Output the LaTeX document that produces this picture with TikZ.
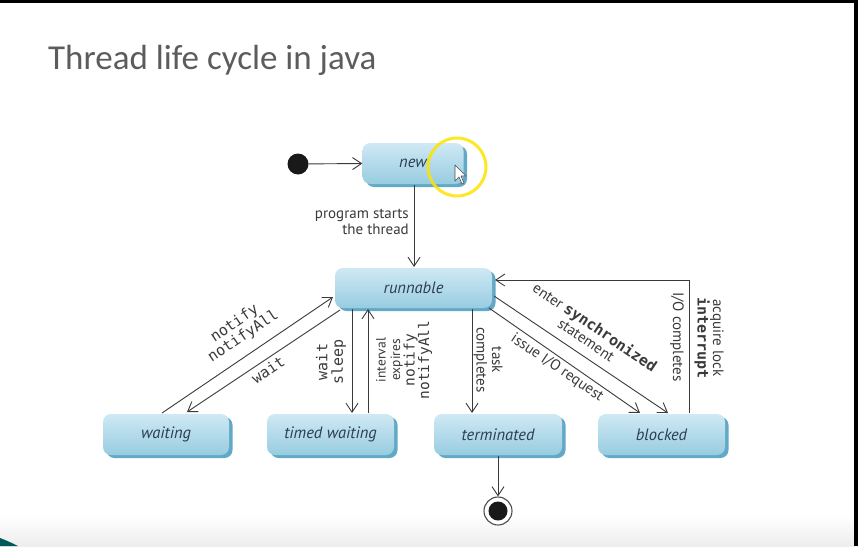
\documentclass[tikz,border=0pt]{standalone}
\usepackage{fontspec}
\setmainfont{PT Sans}
\newfontfamily\titlefont{Carlito}
\newfontfamily\codefont{DejaVu Sans Mono}
\usetikzlibrary{arrows.meta,shadows}

\definecolor{linegray}{HTML}{3A3A3A}
\definecolor{boxtop}{HTML}{CFE9F4}
\definecolor{boxbot}{HTML}{98CCE0}
\definecolor{boxedge}{HTML}{62A9C7}
\definecolor{boxtext}{HTML}{2C3E50}
\definecolor{titlegray}{HTML}{5C5C5C}

\tikzset{
  state/.style={rectangle, rounded corners=8pt, draw=none,
    top color=boxtop, bottom color=boxbot,
    font=\fontsize{16.5}{18}\selectfont\itshape, text=boxtext,
    drop shadow={shadow xshift=3.5pt, shadow yshift=-3pt, fill=boxedge, opacity=1}},
  flow/.style={draw=linegray, line width=0.9pt,
    -{Straight Barb[length=9pt,width=12pt,line width=0.9pt]}},
  lbl/.style={font=\fontsize{15}{15.5}\selectfont, text=linegray, inner sep=0pt},
  codelbl/.style={lbl, font=\codefont\fontsize{15}{15.5}\selectfont},
}
\newcommand{\cd}[1]{{\codefont #1}}
\newcommand{\cdb}[1]{{\codefont\bfseries #1}}

\begin{document}
\begin{tikzpicture}[x=1pt,y=-1pt]
  \useasboundingbox (0,0) rectangle (858,546);
  % page background with a faint grey foot
  \fill[white] (0,0) rectangle (858,546);
  \shade[top color=white, bottom color=black!7] (0,515) rectangle (858,546);
  \fill[black] (0,0) rectangle (858,3);
  \fill[black] (854,0) rectangle (858,546);
  \fill[teal!70!black] (0,538) .. controls (8,541) and (14,544) .. (18,546) -- (0,546) -- cycle;

  % title
  \node[anchor=base west, inner sep=0pt, text=titlegray,
        font=\titlefont\fontsize{35}{38}\selectfont] (title) at (48,69) {Thread life cycle in java};

  % states
  \node[state, minimum width=101pt, minimum height=41pt] (new) at (413,163.5) {new};
  \node[state, minimum width=157pt, minimum height=40pt] (run) at (413.5,288) {runnable};
  \node[state, minimum width=126pt, minimum height=41pt] (wait) at (166,434.5) {waiting};
  \node[state, minimum width=127pt, minimum height=41pt] (timed) at (330.5,434.5) {timed waiting};
  \node[state, minimum width=128pt, minimum height=41pt] (term) at (498,434.5) {terminated};
  \node[state, minimum width=127pt, minimum height=41pt] (block) at (661.5,434.5) {blocked};

  % initial and final pseudo-states
  \node[circle, fill=black!90, minimum size=21pt, inner sep=0pt] (init) at (298,164) {};
  \node[circle, draw=black!70, line width=1.1pt, fill=white, minimum size=28pt, inner sep=0pt] (final) at (498,511) {};
  \node[circle, fill=black!90, minimum size=19pt, inner sep=0pt] (finaldot) at (498,511) {};

  % anchor points on the state borders
  \coordinate (n1) at (414,185);
  \coordinate (r1) at (414,267);
  \coordinate (rw1) at (333,297);
  \coordinate (w1) at (162,413);
  \coordinate (rw2) at (340,310);
  \coordinate (w2) at (187,412);
  \coordinate (rt1) at (352,309);
  \coordinate (t1) at (352,413);
  \coordinate (t2) at (368,413);
  \coordinate (rt2) at (368,309);
  \coordinate (rx) at (472,309);
  \coordinate (x1) at (472,413);
  \coordinate (rb1) at (494,296);
  \coordinate (b1) at (668,413);
  \coordinate (rb2) at (489,308);
  \coordinate (b2) at (640,413);
  \coordinate (b3) at (689,413);
  \coordinate (bc) at (689,280);
  \coordinate (rb3) at (495,280);
  \coordinate (x2) at (498,456);

  % transitions
  \draw[flow] (init) -- (new.west);
  \draw[flow] (n1) -- (r1);
  \draw[flow] (w1) -- (rw1);
  \draw[flow] (rw2) -- (w2);
  \draw[flow] (rt1) -- (t1);
  \draw[flow] (t2) -- (rt2);
  \draw[flow] (rx) -- (x1);
  \draw[flow] (rb1) -- (b1);
  \draw[flow] (rb2) -- (b2);
  \draw[flow] (b3) -- (bc) -- (rb3);
  \draw[flow] (x2) -- (final);

  % transition labels
  \node[lbl, align=right, anchor=east] (lstart) at (409,222) {program starts\\the thread};
  \node[codelbl, align=center, rotate=34] (lnotify) at (239,330) {notify\\notifyAll};
  \node[codelbl, rotate=34] (lwait) at (268,370) {wait};
  \node[codelbl, align=center, rotate=90] (lsleep) at (331,362) {wait\\sleep};
  \node[lbl, align=center, rotate=90, font=\fontsize{13.5}{14.5}\selectfont] (linterval) at (404,360)
       {interval\\expires\\\cd{\fontsize{14.5}{14.5}\selectfont notify}\\\cd{\fontsize{14.5}{14.5}\selectfont notifyAll}};
  \node[lbl, align=center, rotate=-90] (ltask) at (488,360) {task\\completes};
  \node[lbl, align=center, rotate=-34] (lsync) at (591,333) {enter \cdb{synchronized}\\statement};
  \node[lbl, rotate=-34] (lio) at (557,368) {issue I/O request};
  \node[lbl, rotate=-90] (lioc) at (677,337) {I/O completes};
  \node[lbl, align=center, rotate=-90] (lacq) at (709,338) {acquire lock\\\cdb{interrupt}};

  % pointer highlight ring and cursor
  \draw[yellow!85!orange, line width=3pt, opacity=0.85] (457,167) circle (29pt);
  \draw[black!70, fill=white, line width=0.6pt, line join=round]
    (455,165) -- (455,181) -- (459,177) -- (462,184) -- (464,183) -- (461,176) -- (466,176) -- cycle;
\end{tikzpicture}
\end{document}
